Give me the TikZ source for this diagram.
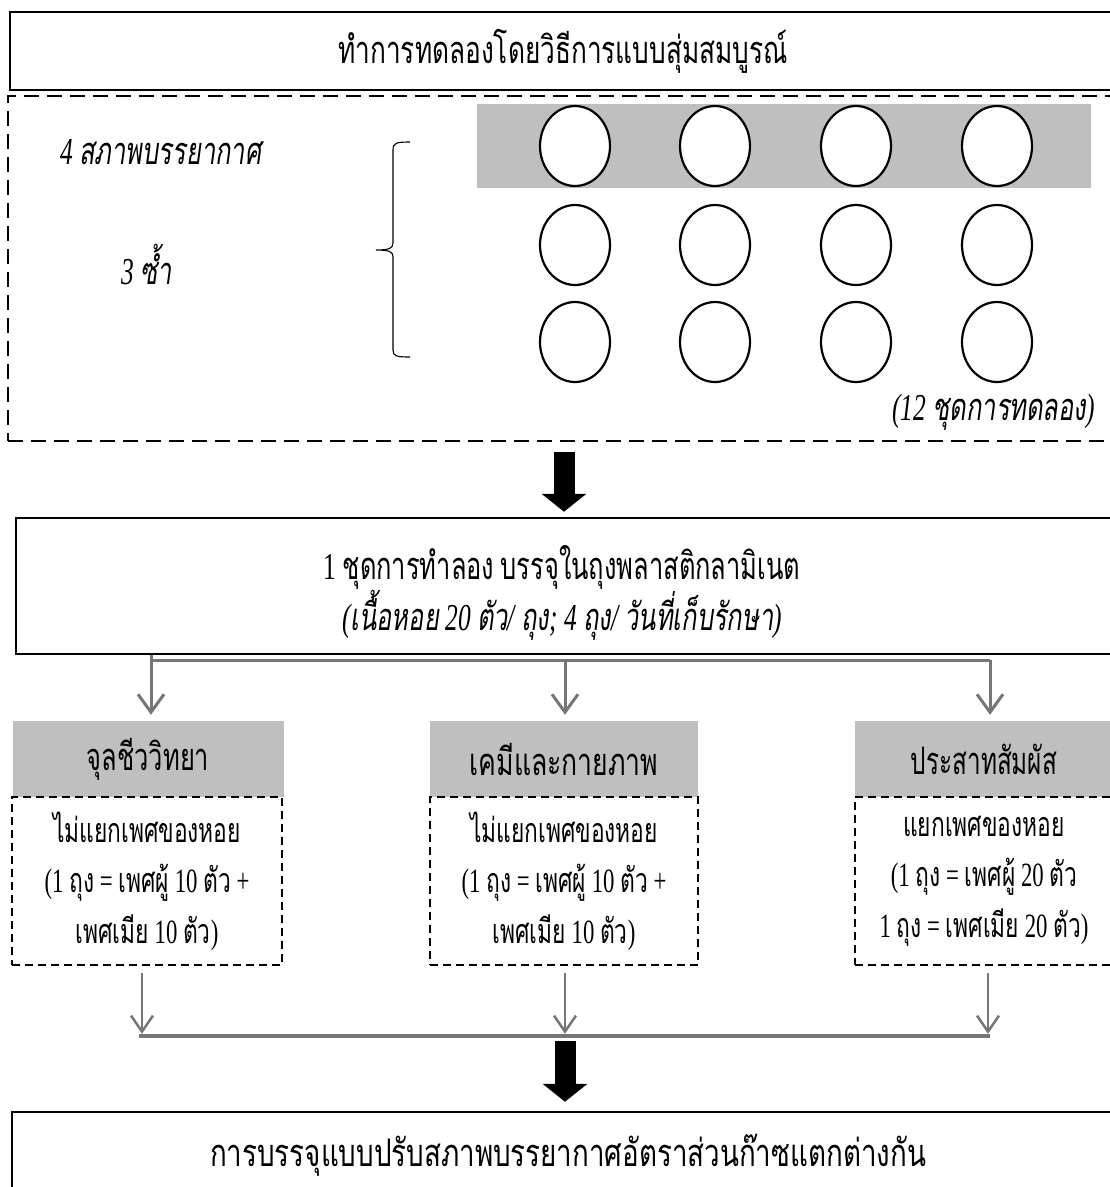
\documentclass[tikz,border=0pt]{standalone}
\usepackage{fontspec}
\usepackage{graphicx}
\setmainfont{Loma}[Script=Thai,ItalicFont=Loma,ItalicFeatures={FakeSlant=0.2}]
\newfontfamily\latnfont{Liberation Serif}
\newcommand\ltn[1]{{\latnfont #1}}
\usetikzlibrary{arrows.meta,calc,shapes.geometric}
\definecolor{bandgray}{RGB}{191,191,191}
\definecolor{linegray}{RGB}{118,118,118}
\newcommand\sqx[2]{\scalebox{#1}[1]{#2}}
\newcommand\tf{\fontsize{38}{45}\selectfont}
\newcommand\df{\fontsize{34}{50.5}\selectfont}
\begin{document}
\begin{tikzpicture}[x=1pt,y=-1pt,
  solidbox/.style={draw=black,line width=2.5pt,inner sep=0pt,align=center,font=\tf},
  boxtext/.style={inner sep=0pt,align=center,font=\tf},
  framebox/.style={draw=black,line width=2.4pt,dash pattern=on 15pt off 8pt,inner sep=0pt},
  band/.style={fill=bandgray,inner sep=0pt},
  cell/.style={ellipse,draw=black,line width=2.2pt,fill=white,minimum width=70pt,minimum height=80pt,inner sep=0pt},
  itlabel/.style={inner sep=0pt,font=\tf\itshape},
  hdr/.style={fill=bandgray,inner sep=0pt,minimum height=76pt,font=\tf},
  detail/.style={draw=black,line width=1.6pt,dash pattern=on 8pt off 5pt,inner sep=0pt,minimum height=168pt,align=center,font=\df},
  bigarrow/.style={line width=21pt,-{Triangle[length=18pt,width=44pt]}},
  garrow/.style={draw=linegray,line width=3pt,-{Straight Barb[length=18pt,width=26pt]}},
  garrowthin/.style={draw=linegray,line width=2.5pt,-{Straight Barb[length=16pt,width=22pt]}},
  gline/.style={draw=linegray,line width=3pt},
  gbus/.style={draw=linegray,line width=4pt}]
\useasboundingbox (0,0) rectangle (1110,1187);

% top title
\node[solidbox,minimum width=1106pt,minimum height=78pt] (title) at (563,51)
  {\sqx{0.69}{ทำการทดลองโดยวิธีการแบบสุ่มสมบูรณ์}};

% dashed frame with the 12 treatment units
\node[framebox,minimum width=1108pt,minimum height=345pt] (frame) at (562,268.5) {};
\node[band,minimum width=614pt,minimum height=84pt] (band) at (784,146) {};
\foreach \cx [count=\i] in {575,715,856,997}{
  \foreach \cy [count=\j] in {146,245,342}{
    \node[cell] (c\j\i) at (\cx,\cy) {};
  }
}
\node[itlabel,anchor=west] (atm) at (60,152) {\sqx{0.67}{\ltn{4 }สภาพบรรยากาศ}};
\node[itlabel,anchor=west] (rep) at (121,265) {\sqx{0.67}{\ltn{3 }ซ้ำ}};
\node[itlabel,anchor=east] (sets) at (1095,412) {\sqx{0.67}{\ltn{(12 }ชุดการทดลอง\ltn{)}}};
\draw[line width=1.1pt] (410,142) .. controls (396,142) and (393,143) .. (393,150)
  -- (393,243) .. controls (393,248) and (390,250) .. (376,250)
  .. controls (390,250) and (393,252) .. (393,257)
  -- (393,350) .. controls (393,356) and (396,357) .. (410,357);

% second box
\node[solidbox,minimum width=1100pt,minimum height=136pt] (box2) at (566,586) {};
\node[boxtext] (box2txt) at (562,593)
  {\sqx{0.67}{\ltn{1 }ชุดการทำลอง\ltn{ }บรรจุในถุงพลาสติกลามิเนต}\\
   {\itshape\sqx{0.67}{\ltn{(}เนื้อหอย\ltn{ 20 }ตัว\ltn{/ }ถุง\ltn{; 4 }ถุง\ltn{/ }วันที่เก็บรักษา\ltn{)}}}};
\draw[bigarrow] ($(frame.south -| 564,0)+(0,10)$) -- ($(box2.north -| 564,0)+(0,-5)$);

% headers
\node[hdr,minimum width=271pt] (h1) at (148,759) {\sqx{0.67}{จุลชีววิทยา}};
\node[hdr,minimum width=268pt] (h2) at (564,759) {\sqx{0.70}{เคมีและกายภาพ}};
\node[hdr,minimum width=258pt] (h3) at (984,759) {\sqx{0.64}{ประสาทสัมผัส}};

\node[detail,minimum width=270pt] (d1) at (147,881)
  {\sqx{0.67}{ไม่แยกเพศของหอย}\\\sqx{0.67}{\ltn{(1 }ถุง\ltn{ = }เพศผู้\ltn{ 10 }ตัว\ltn{ +}}\\\sqx{0.67}{เพศเมีย\ltn{ 10 }ตัว\ltn{)}}};
\node[detail,minimum width=268pt] (d2) at (564,881)
  {\sqx{0.67}{ไม่แยกเพศของหอย}\\\sqx{0.67}{\ltn{(1 }ถุง\ltn{ = }เพศผู้\ltn{ 10 }ตัว\ltn{ +}}\\\sqx{0.67}{เพศเมีย\ltn{ 10 }ตัว\ltn{)}}};
\node[detail,minimum width=258pt] (d3) at (984,881)
  {\sqx{0.67}{แยกเพศของหอย}\\\sqx{0.67}{\ltn{(1 }ถุง\ltn{ = }เพศผู้\ltn{ 20 }ตัว}\\\sqx{0.67}{\ltn{1 }ถุง\ltn{ = }เพศเมีย\ltn{ 20 }ตัว\ltn{)}}};

% gray distribution connectors
\coordinate (bus1) at ($(box2.south)+(0,5)$);
\draw[gline] ($(bus1 -| h1.north)+(3,0)$) -- ($(bus1 -| h3.north)+(6,0)$);
\draw[garrow] ($(box2.south -| h1.north)+(3,0)$) -- ($(h1.north)+(3,-6)$);
\draw[garrow] ($(bus1 -| h2.north)+(1,0)$) -- ($(h2.north)+(1,-6)$);
\draw[garrow] ($(bus1 -| h3.north)+(6,0)$) -- ($(h3.north)+(6,-6)$);

% gathering connectors
\coordinate (bus2) at ($(d2.south)+(0,70)$);
\draw[garrowthin] ($(d1.south)+(-5,7)$) -- ($(d1.south |- bus2)+(-5,-2)$);
\draw[garrowthin] ($(d2.south)+(1,7)$) -- ($(d2.south |- bus2)+(1,-2)$);
\draw[garrowthin] ($(d3.south)+(4,7)$) -- ($(d3.south |- bus2)+(4,-2)$);
\draw[gbus] ($(d1.south |- bus2)+(-8,0)$) -- ($(d3.south |- bus2)+(6,0)$);

% final box
\node[solidbox,minimum width=1112pt,minimum height=86pt] (final) at (568,1155)
  {\sqx{0.73}{การบรรจุแบบปรับสภาพบรรยากาศอัตราส่วนก๊าซแตกต่างกัน}};
\draw[bigarrow] ($(bus2 -| 565,0)+(0,5)$) -- ($(final.north -| 565,0)+(0,-9)$);
\end{tikzpicture}
\end{document}
